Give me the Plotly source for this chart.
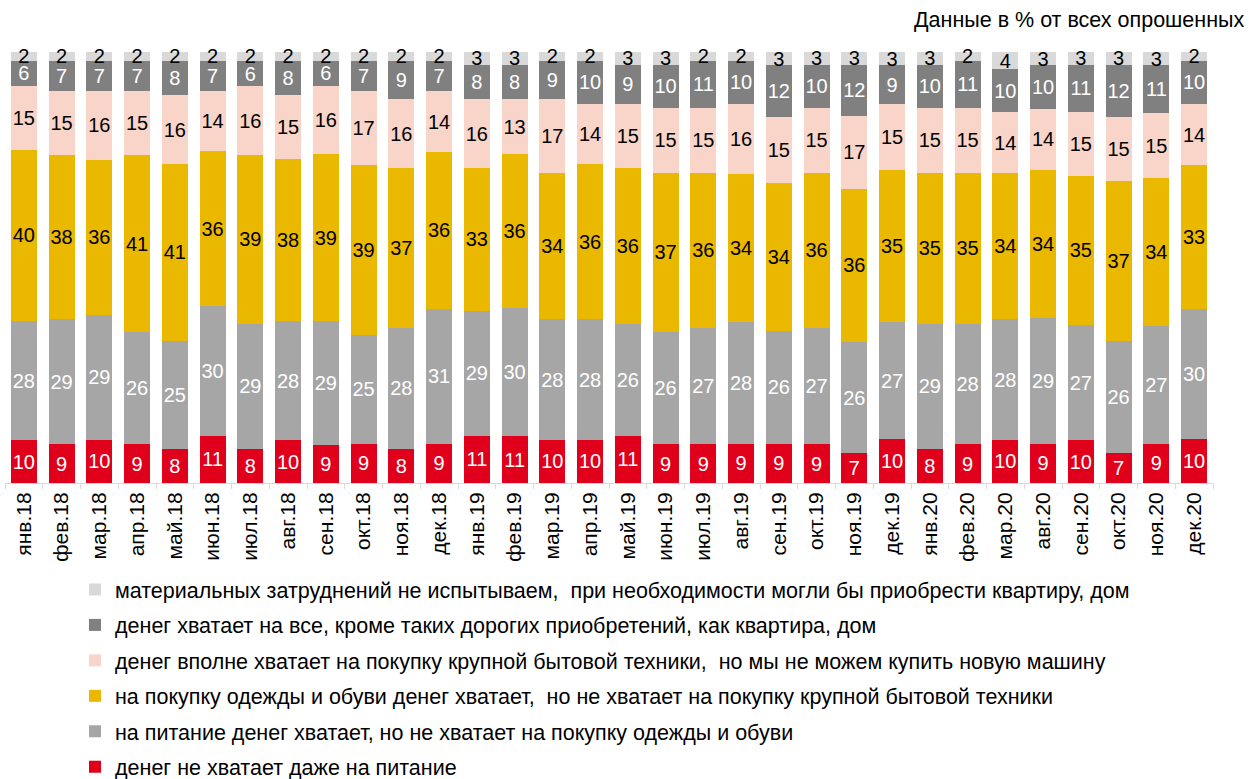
import plotly.graph_objects as go

months = ["янв.18", "фев.18", "мар.18", "апр.18", "май.18", "июн.18", "июл.18", "авг.18",
          "сен.18", "окт.18", "ноя.18", "дек.18", "янв.19", "фев.19", "мар.19", "апр.19",
          "май.19", "июн.19", "июл.19", "авг.19", "сен.19", "окт.19", "ноя.19", "дек.19",
          "янв.20", "фев.20", "мар.20", "авг.20", "сен.20", "окт.20", "ноя.20", "дек.20"]

no_food = [10, 9, 10, 9, 8, 11, 8, 10, 9, 9, 8, 9, 11, 11, 10, 10,
           11, 9, 9, 9, 9, 9, 7, 10, 8, 9, 10, 9, 10, 7, 9, 10]
food_only = [28, 29, 29, 26, 25, 30, 29, 28, 29, 25, 28, 31, 29, 30, 28, 28,
             26, 26, 27, 28, 26, 27, 26, 27, 29, 28, 28, 29, 27, 26, 27, 30]
clothes = [40, 38, 36, 41, 41, 36, 39, 38, 39, 39, 37, 36, 33, 36, 34, 36,
           36, 37, 36, 34, 34, 36, 36, 35, 35, 35, 34, 34, 35, 37, 34, 33]
appliances = [15, 15, 16, 15, 16, 14, 16, 15, 16, 17, 16, 14, 16, 13, 17, 14,
              15, 15, 15, 16, 15, 15, 17, 15, 15, 15, 14, 14, 15, 15, 15, 14]
all_but_home = [6, 7, 7, 7, 8, 7, 6, 8, 6, 7, 9, 7, 8, 8, 9, 10,
                9, 10, 11, 10, 12, 10, 12, 9, 10, 11, 10, 10, 11, 12, 11, 10]
no_troubles = [2, 2, 2, 2, 2, 2, 2, 2, 2, 2, 2, 2, 3, 3, 2, 2,
               3, 3, 2, 2, 3, 3, 3, 3, 3, 2, 4, 3, 3, 3, 3, 2]

series = [
    ("денег не хватает даже на питание", no_food, "#E0001B", "white"),
    ("на питание денег хватает, но не хватает на покупку одежды и обуви", food_only, "#A6A6A6", "white"),
    ("на покупку одежды и обуви денег хватает,  но не хватает на покупку крупной бытовой техники", clothes, "#EBB800", "black"),
    ("денег вполне хватает на покупку крупной бытовой техники,  но мы не можем купить новую машину", appliances, "#F8D5C8", "black"),
    ("денег хватает на все, кроме таких дорогих приобретений, как квартира, дом", all_but_home, "#808080", "white"),
    ("материальных затруднений не испытываем,  при необходимости могли бы приобрести квартиру, дом", no_troubles, "#D9D9D9", "black"),
]

FONT = "Liberation Sans, Arial, sans-serif"
L, R, T, B = 5, 42, 52, 296
W, H = 1255, 779
PW, PH = W - L - R, H - T - B

fig = go.Figure()
n = len(series)
for i, (name, vals, color, tcolor) in enumerate(series):
    fig.add_trace(go.Bar(
        x=months, y=vals, name=name,
        marker=dict(color=color, line=dict(width=0)),
        text=[str(v) for v in vals],
        textposition="inside", insidetextanchor="middle", textangle=0,
        textfont=dict(family=FONT, size=20, color=tcolor),
        cliponaxis=False,
        legendgroup=f"g{i}",
        legendrank=(n - i) * 10,
        hoverinfo="skip",
    ))

fig.update_layout(
    width=W, height=H,
    barmode="stack", barnorm="percent", bargap=0.31,
    plot_bgcolor="white", paper_bgcolor="white",
    margin=dict(l=L, r=R, t=T, b=B, autoexpand=False),
    font=dict(family=FONT, size=20, color="black"),
    uniformtext=dict(minsize=20, mode="show"),
    showlegend=True,
    legend=dict(
        orientation="v", traceorder="grouped",
        xref="paper", yref="paper",
        x=(75 - L) / PW, y=(H - B - 569) / PH, xanchor="left", yanchor="top",
        font=dict(family=FONT, size=21.5, color="black"),
        tracegroupgap=4.5, itemwidth=30,
        bgcolor="rgba(0,0,0,0)",
    ),
    annotations=[dict(
        text="Данные в % от всех опрошенных", xref="paper", yref="paper",
        x=(1246 - L) / PW, y=1 + 32 / PH, xanchor="right", yanchor="middle",
        showarrow=False, font=dict(family=FONT, size=21.5, color="black"),
    )],
)

fig.update_xaxes(
    type="category", showline=True, linecolor="#D9D9D9", linewidth=1,
    ticks="outside", tickson="boundaries", ticklen=5, tickcolor="#D9D9D9",
    tickangle=-90, tickfont=dict(family=FONT, size=21, color="black"),
    showgrid=False,
)
fig.update_yaxes(range=[0, 100], visible=False, showgrid=False)

fig.write_html("out.html", config={"displayModeBar": False},
               post_script="document.body.style.margin='0px';")
